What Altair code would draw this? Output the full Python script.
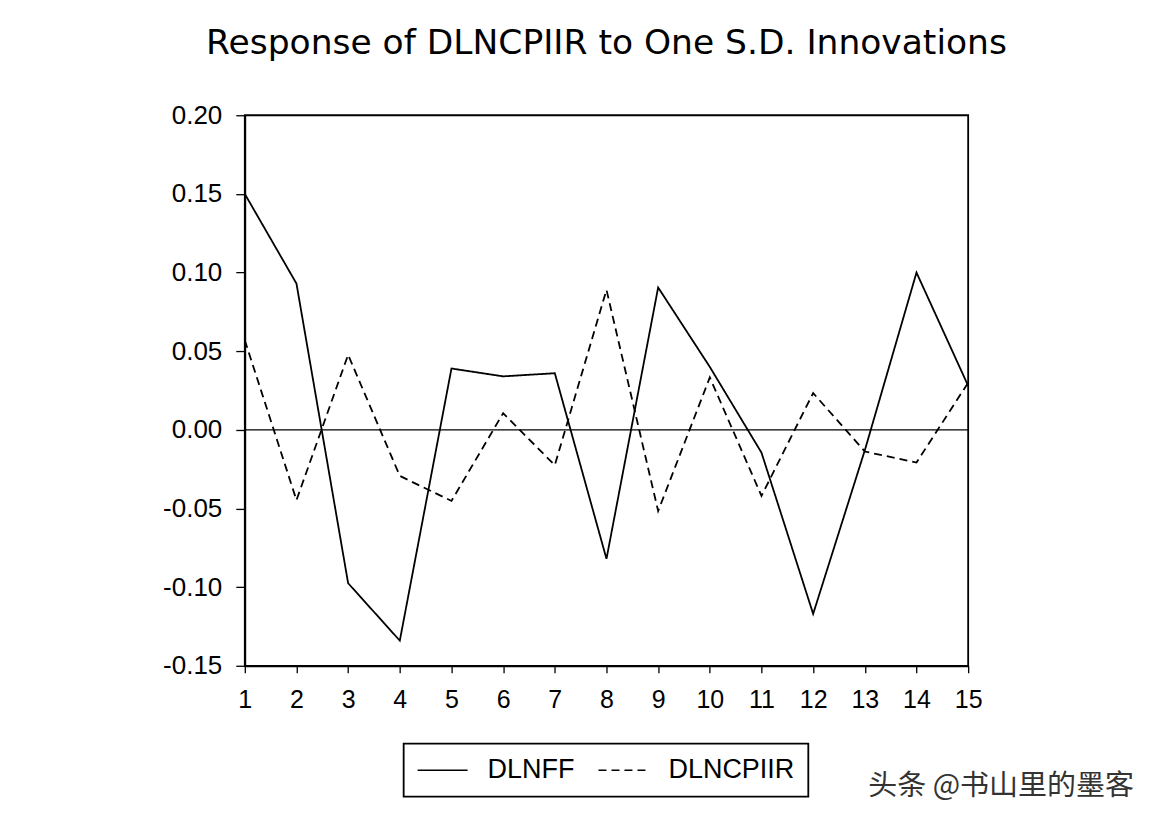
import altair as alt
import pandas as pd

steps = list(range(1, 16))
dlnff = [0.150, 0.093, -0.0975, -0.134, 0.039, 0.034, 0.036, -0.082,
         0.0905, 0.040, -0.0145, -0.117, -0.013, 0.100, 0.028]
dlncpiir = [0.057, -0.0447, 0.0477, -0.0293, -0.0452, 0.0106, -0.0225, 0.089,
            -0.0516, 0.0333, -0.042, 0.0234, -0.0138, -0.0208, 0.030]
series_names = ["DLNFF", "DLNCPIIR"]
y_ticks = [-0.15, -0.10, -0.05, 0.00, 0.05, 0.10, 0.15, 0.20]
title_text = "Response of DLNCPIIR to One S.D. Innovations"
watermark = "头条 @书山里的墨客"

rows = []
for s, a, b in zip(steps, dlnff, dlncpiir):
    rows.append({"step": s, "value": a, "series": series_names[0]})
    rows.append({"step": s, "value": b, "series": series_names[1]})
df = pd.DataFrame(rows)

FONT = "Liberation Sans"

x_scale = alt.Scale(domain=[1, 15], nice=False, zero=False)
y_scale = alt.Scale(domain=[-0.15, 0.20], nice=False, zero=False)

zero = alt.Chart(pd.DataFrame({"z": [0.0]})).mark_rule(
    color="black", strokeWidth=1.2
).encode(y=alt.Y("z:Q", scale=y_scale))

lines = alt.Chart(df).mark_line(color="black", strokeWidth=1.8).encode(
    x=alt.X("step:Q", scale=x_scale,
            axis=alt.Axis(values=steps, format="d", title=None, grid=False,
                          labelFontSize=25, labelPadding=15, tickSize=7,
                          labelFlush=False)),
    y=alt.Y("value:Q", scale=y_scale,
            axis=alt.Axis(values=y_ticks, title=None, grid=False,
                          labelExpr="datum.value < 0 ? '-' + format(-datum.value, '.2f') : format(datum.value, '.2f')",
                          labelFontSize=26, labelPadding=14, tickSize=9)),
    strokeDash=alt.StrokeDash(
        "series:N",
        scale=alt.Scale(domain=series_names, range=[[1, 0], [8, 5]]),
        sort=series_names,
        legend=alt.Legend(title=None, orient="none", direction="horizontal",
                          legendX=159, legendY=629,
                          strokeColor="black", padding=13,
                          symbolType="stroke", symbolSize=2500, clipHeight=27,
                          symbolStrokeWidth=1.6, symbolStrokeColor="black",
                          labelFontSize=27, labelFont=FONT, labelColor="black",
                          labelOffset=19, columnPadding=23),
    ),
)

wm = alt.Chart(pd.DataFrame({"t": [watermark]})).mark_text(
    font="Noto Sans CJK SC", fontSize=29, color="#333333",
    align="left", baseline="middle"
).encode(text="t:N", x=alt.value(624), y=alt.value(671))

chart = alt.layer(zero, lines, wm).properties(
    width=724, height=551,
    title=alt.TitleParams(title_text, fontSize=34.5, font="DejaVu Sans", fontWeight="normal",
                          anchor="middle", color="black", baseline="alphabetic",
                          offset=14),
    padding={"left": 237, "top": 107, "right": 190, "bottom": 150},
    autosize=alt.AutoSizeParams(type="none"),
).configure(
    background="white"
).configure_view(
    stroke="black", strokeWidth=1.8
).configure_axis(
    domainColor="black", domainWidth=1.8, tickColor="black", tickWidth=1.3,
    labelColor="black", labelFont=FONT
).configure_legend(
    strokeWidth=1.8
)

chart.save("out.html", embed_options={"renderer": "svg", "actions": False})
